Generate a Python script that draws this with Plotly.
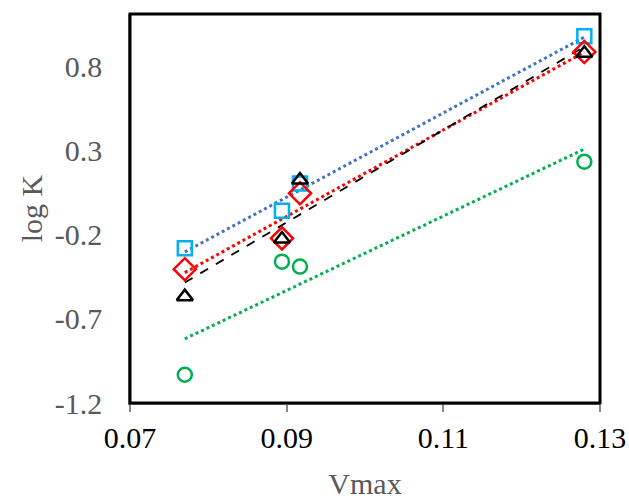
import numpy as np
import plotly.graph_objects as go

vmax = [0.077, 0.0894, 0.0917, 0.128]
logk_blue = [-0.279, -0.056, 0.107, 0.982]
logk_red = [-0.404, -0.22, 0.048, 0.889]
logk_black = [-0.567, -0.224, 0.127, 0.881]
logk_green = [-1.032, -0.359, -0.388, 0.236]

x_ticks = [0.07, 0.09, 0.11, 0.13]
y_ticks = [-1.2, -0.7, -0.2, 0.3, 0.8]

series = [
    (logk_blue, "square-open", "#00B0F0", "#4472C4", "dot", 14),
    (logk_red, "diamond-open", "#FF0000", "#FF0000", "dot", 17),
    (logk_black, "triangle-up-open", "#000000", "#000000", "dash", 14),
    (logk_green, "circle-open", "#00B050", "#00B050", "dot", 14),
]

fig = go.Figure()
xa = np.array(vmax)
for ys, sym, mcol, lcol, dash, size in series:
    m, b = np.polyfit(xa, np.array(ys), 1)
    xl = [xa.min(), xa.max()]
    fig.add_trace(go.Scatter(x=xl, y=[m * v + b for v in xl], mode="lines",
                             line=dict(color=lcol, dash=dash, width=3 if dash == "dot" else 1.8),
                             showlegend=False, hoverinfo="skip"))
for ys, sym, mcol, lcol, dash, size in series:
    fig.add_trace(go.Scatter(x=vmax, y=ys, mode="markers",
                             marker=dict(symbol=sym, size=size, color=mcol,
                                         line=dict(color=mcol, width=2.5)),
                             showlegend=False))

font = "Liberation Serif, Times New Roman, serif"
fig.update_layout(
    width=629, height=500,
    margin=dict(l=130, r=29, t=14, b=97),
    paper_bgcolor="white", plot_bgcolor="white",
    font=dict(family=font, size=30, color="#595959"),
    xaxis=dict(range=[0.07, 0.130001], tickvals=x_ticks, ticktext=[f"{v:.2f}" for v in x_ticks],
               showgrid=False, zeroline=False, showline=True, linecolor="#888888", linewidth=1.5,
               ticks="outside", ticklen=7, tickcolor="#888888", tickwidth=1.5,
               ticklabelstandoff=0, automargin=False,
               tickfont=dict(color="#000000", size=30, family=font),
               title=dict(text="Vmax", standoff=20, font=dict(size=30, color="#595959", family=font))),
    yaxis=dict(range=[-1.2, 1.115], tickvals=y_ticks, ticktext=[f"{v:.1f}" for v in y_ticks],
               showgrid=False, zeroline=False, showline=True, linecolor="#888888", linewidth=1.5,
               ticks="", ticklabelstandoff=20, automargin=False,
               tickfont=dict(color="#595959", size=30, family=font),
               title=dict(text="log K", standoff=3, font=dict(size=30, color="#595959", family=font))),
    shapes=[dict(type="rect", xref="paper", yref="paper", x0=0, y0=0, x1=1, y1=1,
                 line=dict(color="black", width=3), layer="above")],
)
fig.write_html("out.html", config={"displayModeBar": False},
               post_script="document.body.style.margin='0';")
